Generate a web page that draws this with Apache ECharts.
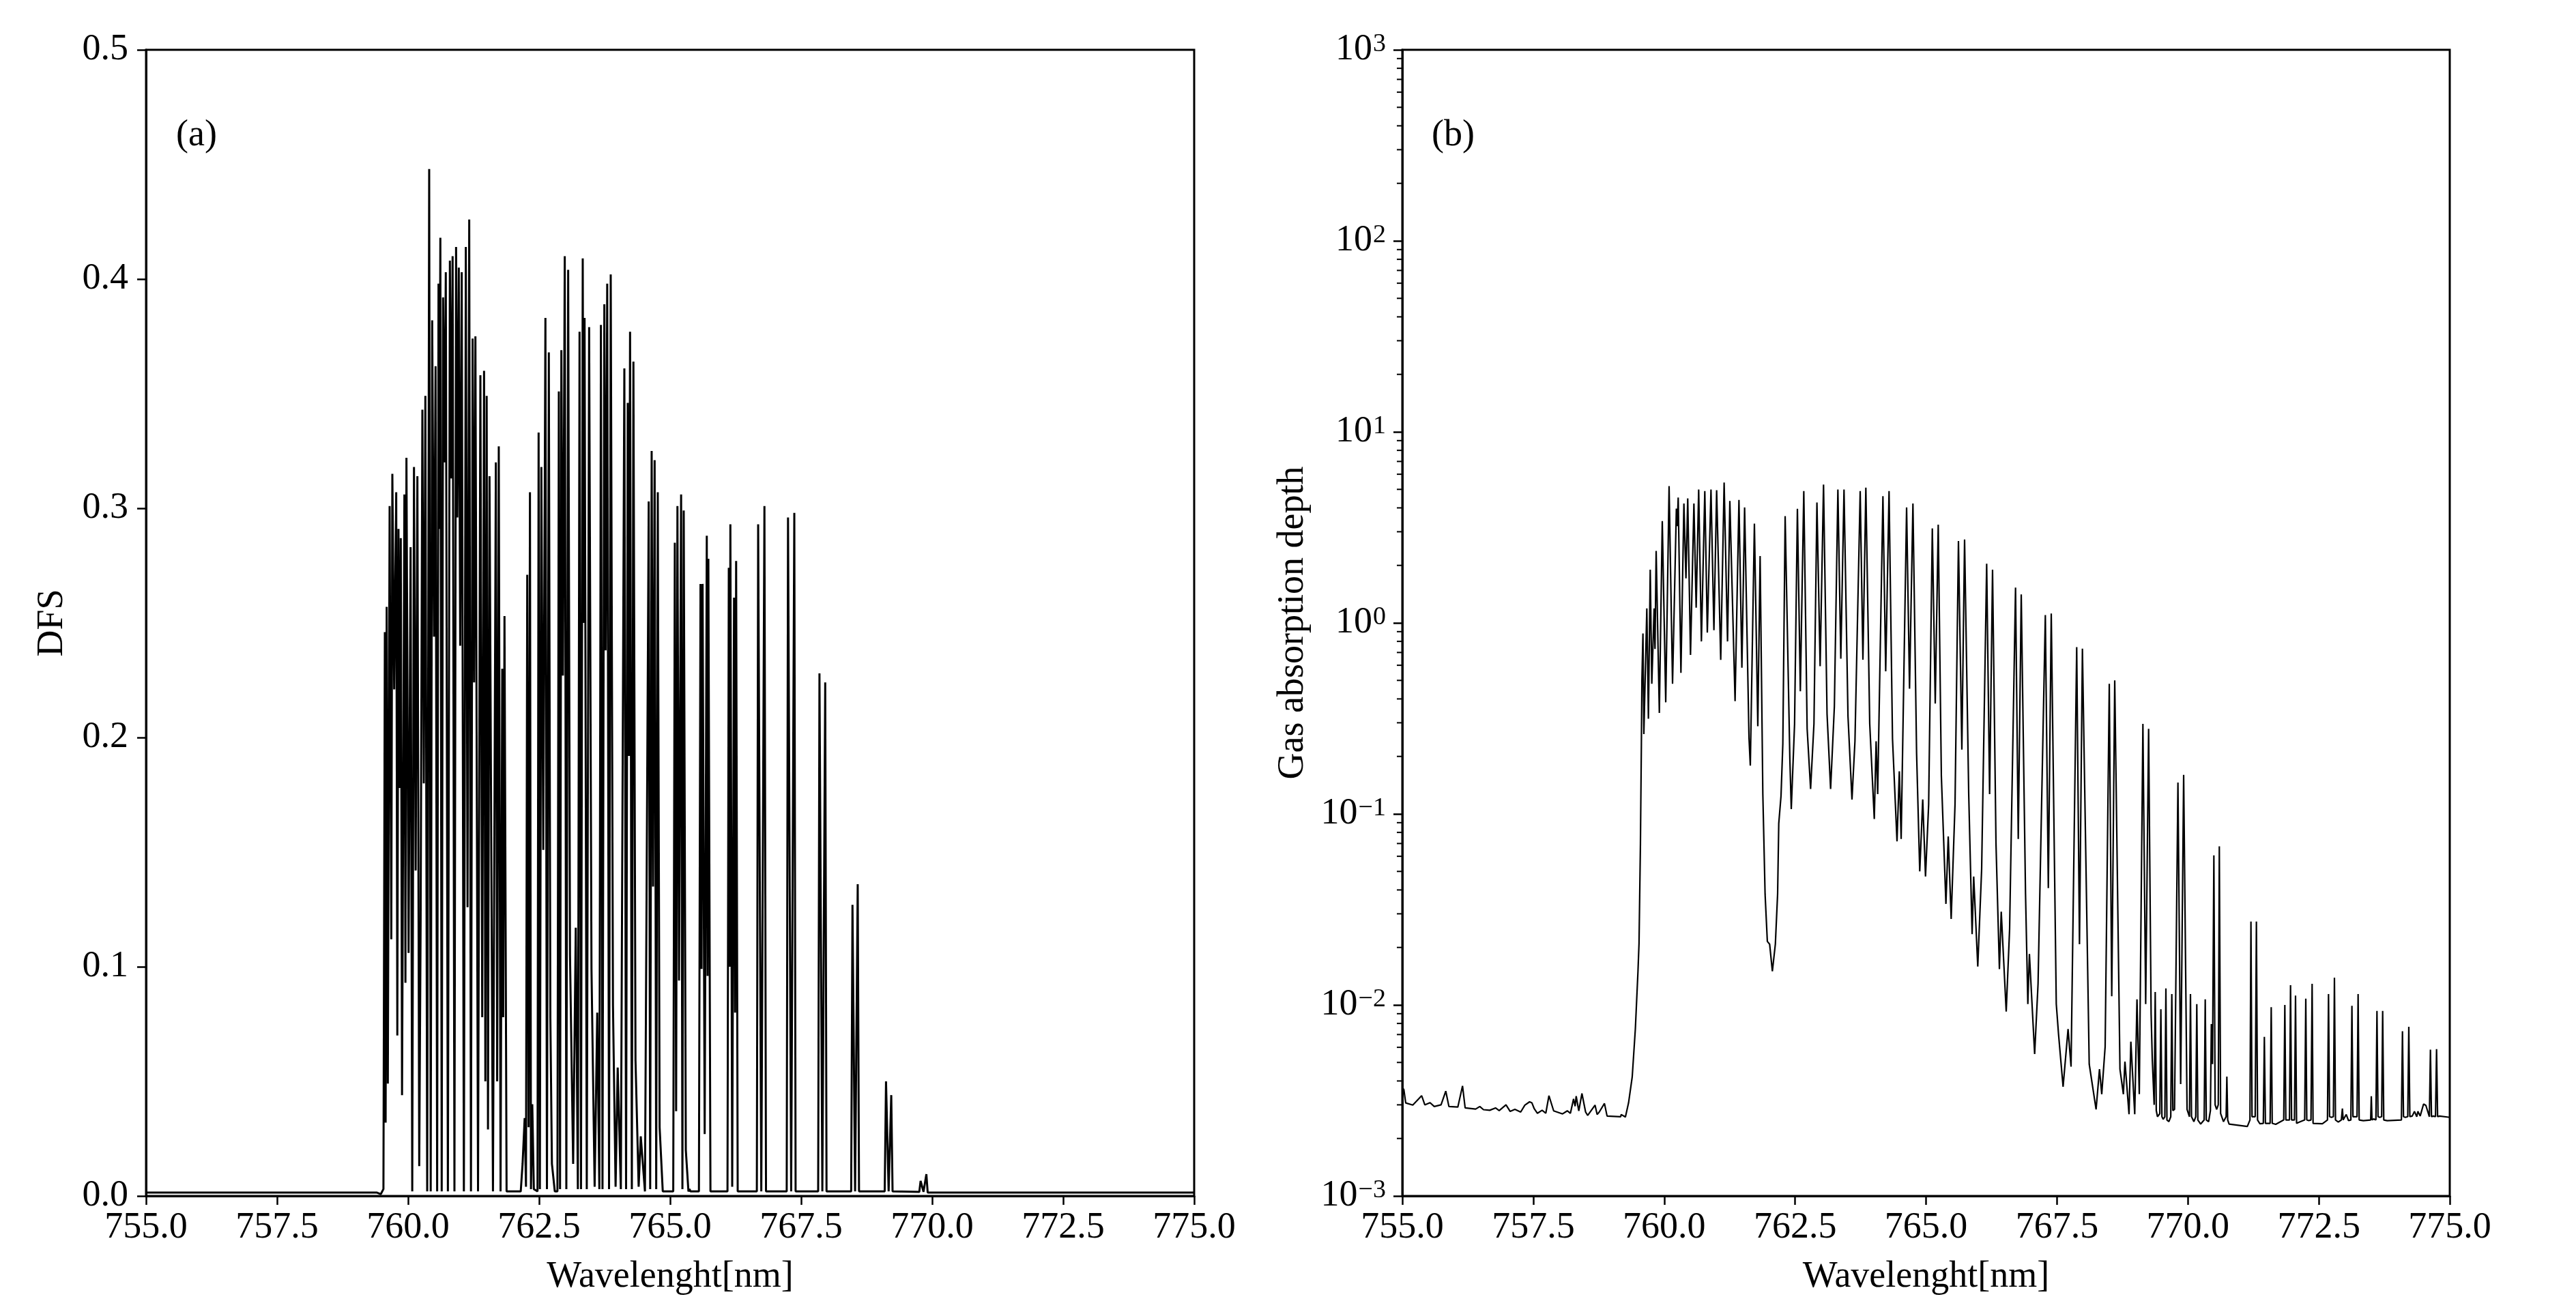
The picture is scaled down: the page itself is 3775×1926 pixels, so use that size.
<!DOCTYPE html>
<html><head><meta charset="utf-8">
<script src="https://cdn.jsdelivr.net/npm/echarts@6/dist/echarts.min.js"></script>
<style>html,body{margin:0;padding:0;background:#fff}#c{width:3775px;height:1926px}</style>
</head><body><div id="c"></div><script>
// ---------- Panel (a): DFS ----------
const dfsWavelength = [
755.000,759.400,759.480,759.530,759.557,759.572,759.592,759.614,759.648,759.680,759.700,759.735,759.774,759.795,759.817,759.840,759.861,759.885,759.930,759.950,
759.969,760.010,760.048,760.080,760.113,760.145,760.178,760.213,760.240,760.273,760.300,760.330,760.365,760.403,760.432,760.460,760.495,760.525,760.555,760.581,
760.598,760.616,760.642,760.668,760.695,760.720,760.760,760.798,760.825,760.850,760.885,760.916,760.940,760.968,760.995,761.024,761.065,761.102,761.135,761.167,
761.200,761.232,761.260,761.285,761.335,761.380,761.415,761.450,761.475,761.500,761.525,761.554,761.620,761.675,761.700,761.731,761.765,761.797,761.815,761.840,
761.880,762.150,762.185,762.225,762.250,762.274,762.300,762.326,762.345,762.370,762.400,762.470,762.491,762.515,762.543,762.580,762.621,762.650,762.686,762.715,
762.745,762.800,762.850,762.877,762.900,762.925,762.955,762.990,763.020,763.055,763.090,763.150,763.200,763.240,763.272,763.300,763.333,763.350,763.368,763.410,
763.455,763.500,763.560,763.610,763.650,763.680,763.710,763.745,763.770,763.800,763.835,763.867,763.910,763.960,764.000,764.060,764.127,764.160,764.192,764.215,
764.236,764.270,764.300,764.340,764.400,764.440,764.520,764.592,764.620,764.648,764.675,764.705,764.735,764.765,764.800,764.860,765.060,765.090,765.115,765.140,
765.170,765.210,765.235,765.260,765.300,765.350,765.370,765.390,765.550,765.580,765.600,765.620,765.660,765.700,765.715,765.730,765.770,766.095,766.120,766.135,
766.150,766.185,766.220,766.240,766.260,766.290,766.655,766.680,766.740,766.800,766.830,767.225,767.250,767.310,767.370,767.395,767.825,767.850,767.905,767.960,
767.985,768.455,768.480,768.530,768.580,768.605,769.095,769.120,769.170,769.220,769.245,769.755,769.780,769.835,769.890,769.915,775.000
];
const dfsValue = [
0.0015,0.0015,0.0008,0.003,0.246,0.032,0.257,0.049,0.301,0.112,0.315,0.221,0.307,0.070,0.291,0.178,0.287,0.044,0.306,0.093,
0.322,0.106,0.283,0.002,0.318,0.142,0.314,0.013,0.120,0.343,0.180,0.349,0.002,0.448,0.002,0.382,0.244,0.362,0.002,0.398,
0.291,0.418,0.002,0.392,0.320,0.403,0.002,0.408,0.313,0.410,0.002,0.414,0.296,0.405,0.240,0.403,0.002,0.414,0.126,0.426,
0.002,0.374,0.224,0.375,0.002,0.358,0.078,0.360,0.050,0.349,0.029,0.314,0.002,0.320,0.050,0.327,0.002,0.230,0.078,0.253,
0.002,0.002,0.014,0.034,0.004,0.271,0.030,0.307,0.003,0.040,0.003,0.002,0.333,0.003,0.318,0.151,0.383,0.003,0.368,0.078,
0.014,0.002,0.002,0.351,0.003,0.369,0.227,0.410,0.003,0.404,0.105,0.014,0.117,0.003,0.377,0.003,0.409,0.250,0.383,0.003,
0.379,0.099,0.004,0.080,0.003,0.380,0.003,0.389,0.238,0.398,0.003,0.402,0.083,0.004,0.056,0.003,0.361,0.003,0.346,0.192,
0.377,0.003,0.364,0.059,0.004,0.026,0.002,0.303,0.003,0.325,0.135,0.321,0.003,0.307,0.030,0.002,0.002,0.285,0.037,0.301,
0.094,0.306,0.003,0.299,0.020,0.002,0.003,0.002,0.002,0.267,0.099,0.267,0.027,0.288,0.096,0.278,0.002,0.002,0.274,0.100,
0.293,0.004,0.261,0.080,0.277,0.002,0.002,0.293,0.002,0.301,0.002,0.002,0.296,0.002,0.298,0.002,0.002,0.228,0.002,0.224,
0.002,0.002,0.127,0.002,0.136,0.002,0.002,0.050,0.002,0.044,0.002,0.0018,0.0066,0.0018,0.0095,0.0015,0.0015
];

// ---------- Panel (b): gas absorption depth ----------
const gasWavelength = [
755.000,755.030,755.065,755.200,755.370,755.430,755.530,755.610,755.740,755.830,755.890,756.060,756.150,756.200,756.400,756.480,756.550,756.670,756.780,756.850,
756.980,757.060,757.150,757.260,757.340,757.430,757.475,757.520,757.580,757.670,757.740,757.800,757.890,758.060,758.150,758.210,758.270,758.300,758.320,758.370,
758.430,758.500,758.540,758.680,758.720,758.760,758.860,758.910,759.170,759.180,759.260,759.320,759.390,759.450,759.500,759.520,759.547,759.565,759.575,759.595,
759.612,759.669,759.699,759.734,759.764,759.808,759.825,759.847,759.908,759.964,760.030,760.094,760.160,760.233,760.250,760.268,760.320,760.377,760.416,760.450,
760.503,760.568,760.611,760.659,760.711,760.776,760.824,760.894,760.950,761.002,761.080,761.145,761.210,761.254,761.354,761.428,761.484,761.536,761.620,761.645,
761.723,761.788,761.832,761.884,761.927,761.970,762.014,762.066,762.123,762.166,762.188,762.231,762.266,762.310,762.400,762.427,762.490,762.544,762.600,762.666,
762.730,762.796,762.860,762.917,762.978,763.043,763.110,763.178,763.250,763.317,763.373,763.434,763.510,763.586,763.643,763.743,763.795,763.851,763.925,764.012,
764.047,764.077,764.177,764.230,764.294,764.360,764.446,764.490,764.525,764.629,764.685,764.750,764.820,764.880,764.937,764.990,765.050,765.120,765.176,765.233,
765.293,765.380,765.424,765.480,765.554,765.619,765.684,765.736,765.815,765.880,765.910,765.988,766.062,766.158,766.214,766.270,766.336,766.401,766.436,766.531,
766.596,766.709,766.761,766.818,766.900,766.944,766.974,767.074,767.139,767.278,767.335,767.391,767.487,767.530,767.617,767.712,767.769,767.877,767.930,767.986,
768.116,768.247,768.312,768.355,768.420,768.499,768.546,768.603,768.703,768.768,768.798,768.876,768.911,768.985,769.028,769.072,769.141,769.194,769.250,769.298,
769.320,769.356,769.376,769.396,769.419,769.464,769.484,769.504,769.528,769.560,769.580,769.600,769.636,769.673,769.693,769.713,769.745,769.810,769.862,769.919,
769.984,770.030,770.049,770.069,770.114,770.150,770.170,770.190,770.244,770.311,770.331,770.351,770.396,770.430,770.448,770.470,770.496,770.520,770.549,770.580,
770.600,770.625,770.680,770.730,770.744,770.760,770.787,771.135,771.185,771.204,771.225,771.285,771.308,771.330,771.373,771.440,771.460,771.480,771.570,771.591,
771.610,771.677,771.830,771.851,771.870,771.895,771.940,771.960,771.980,772.003,772.035,772.055,772.075,772.134,772.230,772.251,772.270,772.307,772.350,772.372,
772.390,772.568,772.665,772.685,772.705,772.742,772.778,772.798,772.818,772.872,772.930,772.950,772.965,772.980,773.024,773.067,773.112,773.132,773.152,773.176,
773.230,773.250,773.270,773.350,773.490,773.502,773.515,773.545,773.590,773.610,773.630,773.662,773.700,773.719,773.740,773.806,774.077,774.097,774.117,774.153,
774.198,774.218,774.238,774.283,774.327,774.370,774.392,774.435,774.500,774.544,774.611,774.631,774.651,774.687,774.728,774.748,774.768,774.804,775.000
];
const gasDepth = [
0.0037,0.0036,0.00307,0.00299,0.00335,0.0030,0.00308,0.00294,0.0030,0.00354,0.00294,0.00292,0.00377,0.00289,0.00285,0.00294,0.00283,0.00281,0.00289,0.0028,
0.0030,0.00277,0.00284,0.00275,0.00299,0.00311,0.00307,0.00286,0.00271,0.00281,0.00271,0.00335,0.00279,0.00269,0.00279,0.00271,0.00322,0.00295,0.00333,0.00279,
0.00344,0.00275,0.00264,0.00299,0.00267,0.00275,0.00305,0.00262,0.0026,0.00267,0.00259,0.00307,0.0042,0.0075,0.015,0.021,0.070,0.233,0.50,0.88,
0.262,1.19,0.315,1.90,0.48,1.19,0.73,2.38,0.338,3.41,0.384,5.2,0.48,3.96,3.21,4.53,0.548,4.22,1.71,4.48,
0.68,4.22,1.20,4.99,0.80,4.90,0.89,4.99,0.916,4.95,0.64,5.43,0.80,4.35,0.389,4.40,0.582,4.02,0.25,0.179,
3.31,0.288,2.24,0.127,0.038,0.0215,0.0208,0.015,0.0208,0.038,0.089,0.124,0.233,3.62,0.194,0.106,0.296,3.96,0.439,4.90,
0.279,0.135,0.296,4.27,0.593,5.30,0.334,0.135,0.366,4.99,0.649,4.99,0.324,0.119,0.240,4.90,0.641,5.10,0.296,0.094,
0.240,0.127,4.61,0.558,4.90,0.247,0.0718,0.167,0.074,4.02,0.452,4.22,0.207,0.050,0.119,0.047,0.112,3.12,0.378,3.27,
0.157,0.0338,0.0762,0.0282,0.113,2.68,0.217,2.73,0.127,0.0235,0.047,0.0159,0.0515,2.04,0.127,1.90,0.0697,0.0154,0.0308,0.00923,
0.025,1.53,0.074,1.41,0.038,0.0101,0.0185,0.00553,0.0129,1.10,0.0409,1.12,0.0101,0.00703,0.00373,0.00748,0.00475,0.746,0.0208,0.733,
0.0049,0.00284,0.00461,0.00341,0.00605,0.48,0.0111,0.50,0.00461,0.00341,0.00505,0.00268,0.00643,0.00268,0.0107,0.00341,0.296,0.0101,0.279,0.00895,
0.0052,0.0030,0.0117,0.0028,0.0026,0.0027,0.0095,0.0026,0.00252,0.0026,0.0122,0.0025,0.00245,0.0026,0.0114,0.0028,0.00284,0.146,0.00385,0.160,
0.00284,0.0026,0.0114,0.0026,0.00245,0.0026,0.0101,0.0025,0.00238,0.0025,0.0107,0.0025,0.00245,0.0028,0.00794,0.0049,0.0607,0.0030,0.00284,0.0030,
0.0676,0.0027,0.00245,0.0026,0.00422,0.0025,0.00238,0.00231,0.0025,0.0273,0.0026,0.0026,0.0273,0.0025,0.00239,0.0024,0.00681,0.0024,0.0024,0.00973,
0.0024,0.00237,0.0025,0.0100,0.0025,0.00251,0.0025,0.0127,0.0025,0.00251,0.0025,0.0112,0.0024,0.00244,0.0025,0.0108,0.0025,0.00248,0.0025,0.0129,
0.0024,0.00239,0.0025,0.0114,0.0026,0.00258,0.0026,0.0139,0.0025,0.00244,0.0025,0.00287,0.0025,0.00248,0.00267,0.00248,0.0025,0.0099,0.0026,0.00258,
0.0026,0.0114,0.0025,0.00248,0.0025,0.00333,0.0025,0.00253,0.0025,0.0093,0.0026,0.00258,0.0026,0.0093,0.0025,0.00248,0.0025,0.00728,0.0026,0.00258,
0.0026,0.00769,0.0026,0.00262,0.00277,0.0026,0.00277,0.00262,0.00303,0.00298,0.0026,0.00583,0.0026,0.00262,0.0026,0.00587,0.0026,0.00262,0.00258
];

// ---------- Axis tick values ----------
const logMajorTicks = [0.001, 0.01, 0.1, 1, 10, 100, 1000];
const logMinorTicks = [
0.002,0.003,0.004,0.005,0.006,0.007,0.008,0.009,
0.02,0.03,0.04,0.05,0.06,0.07,0.08,0.09,
0.2,0.3,0.4,0.5,0.6,0.7,0.8,0.9,
2,3,4,5,6,7,8,9,
20,30,40,50,60,70,80,90,
200,300,400,500,600,700,800,900
];
const panelLabels = ['(a)', '(b)'];

const FONT = 'Liberation Serif, Times New Roman, serif';
const FS = 54;
const BLACK = '#000';

function xAxisCfg(gi) {
  return {
    gridIndex: gi, type: 'value', min: 755, max: 775, interval: 2.5,
    axisLine: { show: true, onZero: false, lineStyle: { color: BLACK, width: 3 } },
    axisTick: { show: true, inside: false, length: 13, lineStyle: { color: BLACK, width: 2.5 } },
    axisLabel: { color: BLACK, fontFamily: FONT, fontSize: FS, margin: 20, formatter: v => v.toFixed(1) },
    splitLine: { show: false },
    name: 'Wavelenght[nm]', nameLocation: 'middle', nameGap: 92,
    nameTextStyle: { color: BLACK, fontFamily: FONT, fontSize: FS }
  };
}

const expoRich = {
  b: { fontFamily: FONT, fontSize: FS, color: BLACK, lineHeight: FS, verticalAlign: 'bottom', padding: [14, 0, 0, 0] },
  s: { fontFamily: FONT, fontSize: 38, color: BLACK, lineHeight: 38, verticalAlign: 'top', padding: [0, 0, 0, 1] }
};

const option = {
  animation: false,
  backgroundColor: '#fff',
  grid: [
    { left: 214, top: 73, width: 1536, height: 1680, show: true, borderColor: BLACK, borderWidth: 3, backgroundColor: 'transparent' },
    { left: 2055, top: 73, width: 1535, height: 1680, show: true, borderColor: BLACK, borderWidth: 3, backgroundColor: 'transparent' }
  ],
  xAxis: [xAxisCfg(0), xAxisCfg(1)],
  yAxis: [
    {
      gridIndex: 0, type: 'value', min: 0, max: 0.5, interval: 0.1,
      axisLine: { show: true, lineStyle: { color: BLACK, width: 3 } },
      axisTick: { show: true, inside: false, length: 13, lineStyle: { color: BLACK, width: 2.5 } },
      axisLabel: { color: BLACK, fontFamily: FONT, fontSize: FS, margin: 26, formatter: v => v.toFixed(1) },
      splitLine: { show: false },
      name: 'DFS', nameLocation: 'middle', nameGap: 110,
      nameTextStyle: { color: BLACK, fontFamily: FONT, fontSize: FS }
    },
    {
      gridIndex: 1, type: 'log', logBase: 10, min: 0.001, max: 1000, position: 'left',
      axisLine: { show: true, lineStyle: { color: BLACK, width: 3 } },
      axisTick: { show: true, inside: false, length: 13, customValues: logMajorTicks, lineStyle: { color: BLACK, width: 2.5 } },
      axisLabel: {
        customValues: logMajorTicks, margin: 24,
        formatter: v => { const e = Math.round(Math.log10(v)); return '{b|10}{s|' + (e < 0 ? '\u2212' + (-e) : e) + '}'; },
        rich: expoRich
      },
      splitLine: { show: false },
      name: 'Gas absorption depth', nameLocation: 'middle', nameGap: 133,
      nameTextStyle: { color: BLACK, fontFamily: FONT, fontSize: FS }
    }
  ],
  graphic: [
    { type: 'text', left: 258, top: 172, style: { text: panelLabels[0], fill: BLACK, font: FS + 'px ' + FONT } },
    { type: 'text', left: 2098, top: 172, style: { text: panelLabels[1], fill: BLACK, font: FS + 'px ' + FONT } }
  ],
  series: [
    {
      type: 'line', xAxisIndex: 0, yAxisIndex: 0,
      data: dfsWavelength.map((w, i) => [w, dfsValue[i]]),
      showSymbol: false, symbol: 'none', sampling: null, clip: true,
      lineStyle: { color: BLACK, width: 3 }
    },
    {
      type: 'line', xAxisIndex: 1, yAxisIndex: 1,
      data: gasWavelength.map((w, i) => [w, gasDepth[i]]),
      showSymbol: false, symbol: 'none', sampling: null, clip: true,
      lineStyle: { color: BLACK, width: 2.2 }
    },
    {
      // minor log ticks (2..9 x 10^k), placed through the log axis scale
      type: 'custom', xAxisIndex: 1, yAxisIndex: 1, clip: false, silent: true, z: 5,
      data: logMinorTicks.map(v => [755, v]),
      renderItem: (params, api) => {
        const p = api.coord([api.value(0), api.value(1)]);
        return { type: 'line', shape: { x1: p[0] - 8, y1: p[1], x2: p[0], y2: p[1] }, style: { stroke: BLACK, lineWidth: 2 } };
      }
    }
  ]
};

const chart = echarts.init(document.getElementById('c'), null, { renderer: 'canvas' });
chart.setOption(option);
</script></body></html>
